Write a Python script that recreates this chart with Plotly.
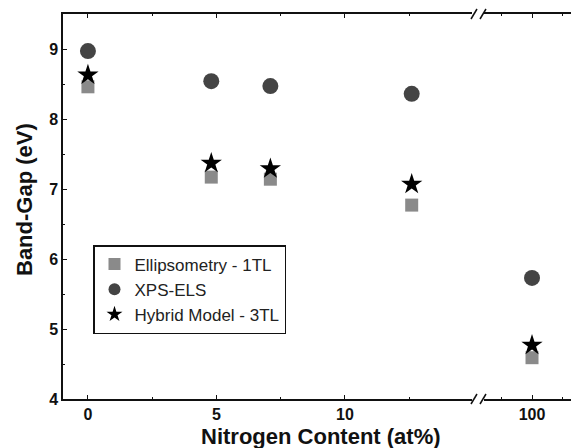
import plotly.graph_objects as go

nitrogen = [0, 4.8, 7.1, 12.6, 100]
ellipsometry = [8.46, 7.17, 7.14, 6.77, 4.59]
xps_els = [8.97, 8.54, 8.47, 8.36, 5.73]
hybrid = [8.63, 7.37, 7.29, 7.07, 4.77]

series = [
    ("Ellipsometry - 1TL", ellipsometry, "square", 13, "#8a8a8a"),
    ("XPS-ELS", xps_els, "circle", 16, "#444444"),
    ("Hybrid Model - 3TL", hybrid, "star", 16, "#000000"),
]

BREAK = 50
fig = go.Figure()
for name, vals, sym, size, col in series:
    lo = [(x, y) for x, y in zip(nitrogen, vals) if x < BREAK]
    hi = [(x, y) for x, y in zip(nitrogen, vals) if x >= BREAK]
    mk = dict(symbol=sym, size=size, color=col, line=dict(width=0))
    fig.add_trace(go.Scatter(x=[p[0] for p in lo], y=[p[1] for p in lo], mode="markers",
                             name=name, legendgroup=name, marker=mk, xaxis="x", yaxis="y"))
    fig.add_trace(go.Scatter(x=[p[0] for p in hi], y=[p[1] for p in hi], mode="markers",
                             name=name, legendgroup=name, showlegend=False, marker=mk,
                             xaxis="x2", yaxis="y"))

# page body has an 8px margin, compensate
OFF = 8
W, H = 579 - OFF, 448 - OFF
L, R, T, B = 63 - OFF, 0, 14 - OFF, 49
pw = W - L - R
ph = H - T - B
d = (478 - 63) / pw

FONT = "Liberation Sans, Arial"
tickfont = dict(family=FONT, size=16, color="#111111")
axcommon = dict(showgrid=False, zeroline=False, showline=True, linecolor="#111111", linewidth=1.5,
                ticks="inside", ticklen=4, tickwidth=1, tickcolor="#111111", tickfont=tickfont)

fig.update_layout(
    width=W, height=H,
    margin=dict(l=L, r=R, t=T, b=B),
    paper_bgcolor="white", plot_bgcolor="white",
    font=dict(family=FONT, color="#111111"),
    xaxis=dict(domain=[0, d], range=[-0.97, 15.18], tickvals=[0, 5, 10], ticktext=["<b>0</b>", "<b>5</b>", "<b>10</b>"],
               minor=dict(tickvals=[2.5, 7.5, 12.5], ticklen=2, ticks="inside", tickcolor="#111111"),
               mirror="ticks", anchor="y", **axcommon),
    xaxis2=dict(domain=[d, 1], range=[98.23, 101.54], tickvals=[100], ticktext=["<b>100</b>"],
                minor=dict(tickvals=[99, 101], ticklen=2, ticks="inside", tickcolor="#111111"),
                mirror="ticks", anchor="y", **axcommon),
    yaxis=dict(range=[4, 9.5], tickvals=[4, 5, 6, 7, 8, 9],
               ticktext=["<b>%d</b>" % v for v in [4, 5, 6, 7, 8, 9]],
               minor=dict(tickvals=[4.5, 5.5, 6.5, 7.5, 8.5, 9.5], ticklen=2, ticks="inside", tickcolor="#111111"),
               anchor="x", **axcommon),
    yaxis3=dict(range=[4, 9.5], overlaying="y", side="right", anchor="x2", showgrid=False, zeroline=False,
                showline=False, ticks="inside", ticklen=4, tickcolor="#111111", showticklabels=False,
                tickvals=[4, 5, 6, 7, 8, 9],
                minor=dict(tickvals=[4.5, 5.5, 6.5, 7.5, 8.5, 9.5], ticklen=2, ticks="inside", tickcolor="#111111")),
    legend=dict(x=(93 - 63) / pw, y=(399 - 245) / ph, xanchor="left", yanchor="top",
                bordercolor="#111111", borderwidth=1.5, bgcolor="white",
                font=dict(size=17, family=FONT, color="#222222"),
                tracegroupgap=0, itemsizing="constant"),
    annotations=[
        dict(text="<b>Nitrogen Content (at%)</b>", xref="paper", yref="paper", x=0.5, y=0,
             yshift=-(436 - 399), showarrow=False, yanchor="middle",
             font=dict(size=22, family=FONT, color="#111111")),
        dict(text="<b>Band-Gap (eV)</b>", xref="paper", yref="paper", x=0, y=(399 - 200) / ph,
             xshift=-(63 - 24), showarrow=False, textangle=-90, xanchor="center", yanchor="middle",
             font=dict(size=22, family=FONT, color="#111111")),
    ],
)

# axis break marks
shapes = []
for yp in (0, 1):
    shapes.append(dict(type="rect", xref="paper", yref="paper", x0=d - 6 / pw, x1=d + 6 / pw,
                       y0=yp, y1=yp, line=dict(color="white", width=4)))
    for off in (-6, 3):
        shapes.append(dict(type="line", xref="paper", yref="paper",
                           x0=d + (off - 1) / pw, x1=d + (off + 5) / pw,
                           y0=yp - 5 / ph, y1=yp + 5 / ph,
                           line=dict(color="#111111", width=1.5)))
fig.update_layout(shapes=shapes)

fig.write_html("out.html")
